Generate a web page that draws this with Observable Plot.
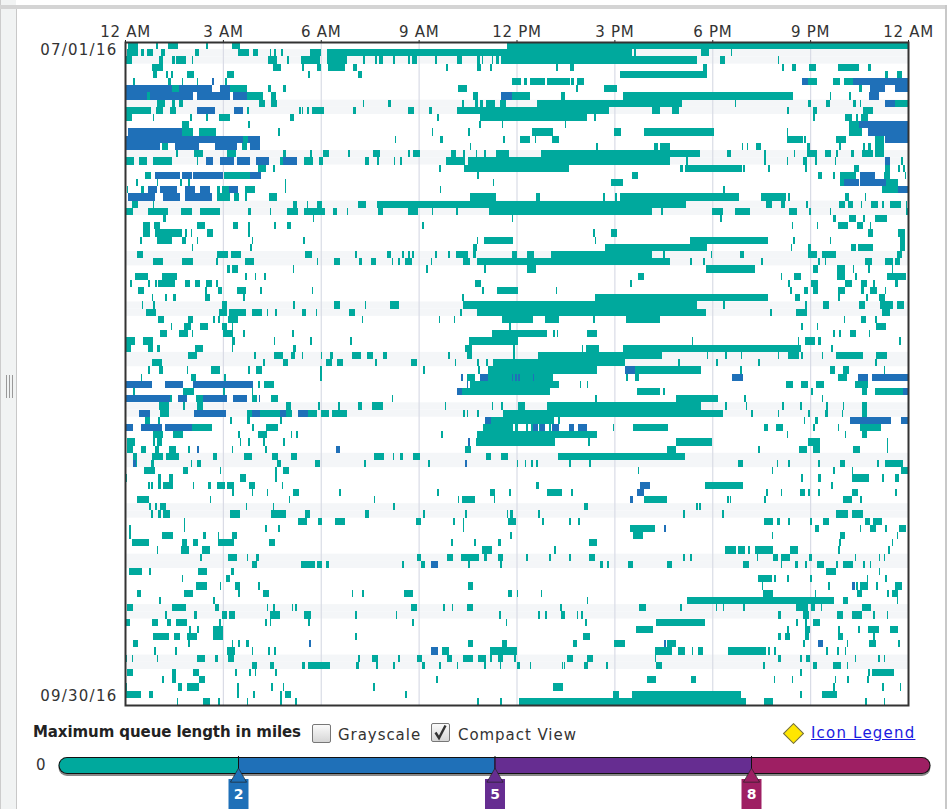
<!DOCTYPE html>
<html>
<head>
<meta charset="utf-8">
<script src="https://cdn.jsdelivr.net/npm/d3@7"></script>
<script src="https://cdn.jsdelivr.net/npm/@observablehq/plot@0.6"></script>
<style>
html,body{margin:0;padding:0;background:#fff;width:950px;height:809px;overflow:hidden;font-family:"DejaVu Sans",sans-serif;color:#333}
.abs{position:absolute}
svg{position:absolute;left:0;overflow:visible}
.t{position:absolute;font-size:15px;letter-spacing:.95px;white-space:nowrap;line-height:18px}
.cb{position:absolute;width:17px;height:17px;border:1px solid #777;border-radius:2px;background:linear-gradient(#fafafa,#d6d6d6)}
</style>
</head>
<body>
<div class="abs" style="left:0;top:0;width:1px;height:809px;background:#ccc"></div>
<div class="abs" style="left:1px;top:0;width:15px;height:809px;background:#f1f3f3"></div>
<div class="abs" style="left:16px;top:5px;width:1px;height:804px;background:#c8c8c8"></div>
<div class="abs" style="left:0;top:5px;width:946px;height:4px;background:#d4d4d4"></div>
<div class="abs" style="left:945px;top:5px;width:2px;height:804px;background:#c8c8c8"></div>
<div class="abs" style="left:6px;top:375px;width:1px;height:23px;background:#999;box-shadow:3px 0 0 #999,6px 0 0 #999"></div>
<div id="chart"></div>
<div class="t" style="left:33px;top:723px;font-weight:bold;font-size:15px;letter-spacing:-.09px;color:#222">Maximum queue length in miles</div>
<div class="cb" style="left:312px;top:724px"></div>
<div class="t" style="left:338px;top:726px">Grayscale</div>
<div class="cb" style="left:431px;top:723px"></div>
<svg style="top:723px;left:431px" width="19" height="19"><path d="M4.5 9.5 L8 15 L14.5 2.5" fill="none" stroke="#333" stroke-width="2.4"/></svg>
<div class="t" style="left:458px;top:726px">Compact View</div>
<div class="abs" style="left:786px;top:726px;width:13px;height:13px;background:#ffe600;border:1px solid #665;transform:rotate(45deg)"></div>
<div class="t" style="left:811px;top:724px;color:#1a1ae0;text-decoration:underline;letter-spacing:1.2px">Icon Legend</div>
<div class="t" style="left:36px;top:756px">0</div>
<div id="legend"></div>
<script>
const hourTicks = [0,3,6,9,12,15,18,21,24];
const hourLabels = ["12 AM","3 AM","6 AM","9 AM","12 PM","3 PM","6 PM","9 PM","12 AM"];
const dayCount = 92;
const weekendDays = [1,2,8,9,15,16,22,23,29,30,36,37,43,44,50,51,57,58,64,65,71,72,78,79,85,86];
const dateTicks = [1,90.75];
const dateLabels = ["07/01/16","09/30/16"];
const tealColor = "#00a99d", blueColor = "#1f70b8", purpleColor = "#662d91", magentaColor = "#9e1f63";

// Congested spans per day, in hours after midnight ("start-end", or a lone hour for a brief event).
const tealSpans = [
"0.1-0.4 0.95 1.33-1.63 2.48 3.27-3.52 11.72-24",
"0.05-0.4 0.48-0.58 0.66-0.87 1.09-1.23 2.15-2.28 3.47-3.81 3.93-4.09 4.44 4.57 4.77-4.85 5.67-6 6.2-15.53 15.6 17.67-17.9 18.56",
"0-0.2 1.05-1.17 1.43-1.53 1.56-1.87 2.04 4.39-4.65 4.97 5.39-5.98 6.2-6.79 7.28-7.37 7.66-7.73 7.79-7.9 8.2-8.28 8.68-8.75 8.81-8.94 9.5 10.18-10.32 10.78-10.88 10.93 11.24 11.37-11.47 11.54-17.52 18.23-18.39 20",
"0.82-1.15 4.55-4.77 5.41-5.49 5.87-6 6.23-6.74 7-7.1 9.84 10.78-10.9 11.19 13.2-13.27 13.64-13.76 17.72-17.85 20.15 20.43-20.56 20.97-21.18 21.84-22.5 22.78-22.86",
"0.85-0.97 1.26 1.4-1.46 1.89-2.11 3.14-3.34 5.62 7.15-7.25 15.17-17.85 23.29-23.39 23.67-23.83",
"0.26 1.33-1.4 1.74-1.79 2.2-2.25 3.06-3.12 11.85-12.13 12.24-12.33 12.41-12.87 12.95-13.63 13.68-13.76 13.86-14.08 20.94-21.2 21.69-21.93 22.03-22.32",
"1.43-1.66 3.22-3.75 4.37-4.49 4.85-4.92 10.21-10.49 13.82-13.9 14.68-15.09 22.5-22.6",
"0.66-0.76 3.75-4.22 4.49-4.62 10.68-10.83 11.85-12.41 13.35-13.5 15.25-20.48 21.6 22.2",
"0.97-1.23 1.43-1.53 1.65-1.79 4.12-4.29 4.46-4.65 7.28 8.07-8.14 10.32-10.39 10.73-10.83 10.88-10.98 11.08-11.34 11.5-11.68 12.64-17.08 18.69 20.94-21.04 21.5-21.6 22.32-22.42 22.52 23.6-24",
"0-0.79 0.95-1.17 1.38-1.56 3.73-3.8 5.33 5.41 5.58 5.72 5.77-6.1 6.98-7.08 8.68-8.87 9.33-9.41 10.18-14.83 16.14-16.4 16.78-16.98 20.3 21.09-21.21 22.63-22.93",
"0.02-0.2 0.85 2 2.47-2.55 2.88-3.22 5.06-5.18 9.55-9.63 10.88-14.17 14.37-14.43 21.1 22.06-22.27 22.42 22.57-22.77",
"1.74-1.97 3.78 10.86 11.55 13.48 22.2-22.5",
"1.74-2.09 2.27-2.78 4.7 9.4 10.52 12.49-13.13 14.99-15.2 15.91-18.05 20.28 22.2-22.6",
"3.63-3.78 8.27 9.65-9.75 11.6 12.1-12.4 12.56 13.1-13.31 20.3-20.77 20.82 21.78-22.11 22.98-23.25",
"1.12-1.33 3.58-3.75 10.57 14.45 16.2-16.33 16.4-16.7 18.9 19.05 19.34-19.48 20.9-21 21.9 22.63 22.78-22.88 23-23.25",
"1.56 2.11-2.38 3.14-3.4 4.85-4.95 5.67-5.74 6.08-6.25 6.84 7.59-7.81 8.68-8.75 8.83-9.04 10-10.16 10.37-10.42 10.75 11 11.37-11.78 12.74-17.62 18.44-18.59 19.59 20.5 20.9-21.2 21.45-21.65 21.8 22.24-22.34 22.6-22.93 23-23.25",
"0-0.28 0.44-0.66 0.87-1.43 2.2 4.75-4.85 5.49-5.77 5.96-6.06 7.35-7.49 7.71-7.78 8.24 8.43 9.84-10.42 10.52-16.72 17.21 19.6 20.28 20.79-20.89 21.15 21.75 23.8",
"4.09-4.31 4.55 9.63 10.39-13.6 17-17.1 17.18-18.9 18.95 19.71-19.76 20.84 22.34-22.5 23.3-23.45 23.7 23.85",
"0.61-0.79 3.03-3.83 10.8 15.55-15.73 21.25-21.35 21.7 21.91-22.42 23.25-23.45 23.9",
"0.34-0.41 0.97 1.69 1.94 4.9 11.27 14.91-15.25 21.91-22.03 23.33-23.69",
"0.05 0.5-0.58 2.81-2.91 2.98-3.18 3.68-3.98 4.9 9.65 18.34 23.19-23.69",
"2.81-3.22 3.35-3.5 3.68 4.42-4.65 10.57-11.37 12.59-12.72 14.66 15.02 15.17-18.82 19.5-20.26 20.32 22.06-22.2 22.67",
"0.2-0.4 0.85 5.16-5.26 5.57 5.87-6.03 7.15-7.4 7.71-17.21 19.64-19.82 20.12-20.22 20.87 21.9-22.06 22.16-22.3 22.55 22.88-23.09 23.2 23.44-23.8 23.93",
"0-0.23 0.72-1.33 1.72-2.04 2.3-2.91 3.78-3.85 4.44 4.97-5.31 5.49-6.13 6.38-6.49 6.79 7.76-7.92 8.68-8.99 9.4 10.16 11.16-16.14 16.44 18-18.34 18.69-19.17 20.36-20.6 20.97 21.6 23.95",
"1.17-1.25 5.75 11.86-11.9 18.25 21.7-21.8 22.2-22.4 22.63 22.98-23.37",
"0.56-0.77 0.89-1.07 2.2-2.45 3.3-3.47 3.78 4.57 4.97-5.08 9.09-9.16 20.43 21.2 21.86-22.17 22.45-22.63 22.83",
"0.56-0.77 0.92-1.74 1.85 2.01 2.5-2.69 3.78 14.36 14.91-15.07 22.78-22.93 23.7-23.9",
"0.46 0.97-1.43 1.74-1.86 2.2 3.88 5.46 10.78 11-11.9 14.4 17.31-19.71 20.48 21.6 23.75-23.9",
"2.04 3.83 10.67-10.8 14.71-17.83 20.4 20.94-21.04 22.24-22.42 22.47-22.93 23.75-23.9",
"0.38-0.56 2.83-3.17 3.24-3.57 5.52-5.74 7.05 8.04-8.14 8.48-8.55 8.68 8.8 9.5 9.9 10.14-10.52 10.67-10.77 11.85-12.02 12.33-12.53 13.07-16.14 16.5 17.95 18.85-18.98 20.92-21.2 21.35-21.79 23.65-23.83",
"0.87-1.17 1.76-2.07 2.8 3.68-3.96 5.87 6.4-6.59 7.18-7.25 7.53-7.69 8.17 8.38 8.58-8.8 9.37 10.37-10.57 10.78-16.7 17.32 17.72 19.5 21.25 21.45 22.67-22.91 23.29-23.54 23.6-23.75",
"3.12-3.22 3.29-3.47 5.14 9.24 11 12.31-12.61 17.82-19.3 21.09-21.24 21.81-22.07 22.3 22.78 23.5",
"0.3-0.72 1.12-1.58 3.68 3.98 4.26 15.73-15.92 20.1 20.5-20.73 21.81-22.07 22.38 23.36-23.95",
"0.15 0.72 0.92 1.02-1.53 1.84-1.99 2.14-2.3 2.48-2.66 2.8 10.72-10.9 15.47-15.55 20.33 21.04-21.24 22.06-22.27 22.57-22.75 22.93 23.6-23.7",
"0.41-0.59 2.45 2.86-2.96 3.44-3.7 4.14 5.72 10.95 11.41-12.05 13.2 20.38 20.8-20.94 21.09-21.24 21.86-22.06 22.57-22.64 22.85-23.05 23.28",
"0.82 1.23 1.48-1.55 2.45-2.6 3.63-3.69 10.32-10.39 14.4-19.71 20.53-20.7 21.86 22.72 23.12-23.3",
"0.51 0.87 2.96-3.12 5.16 6.4-6.59 7.35 8.12-8.41 10.35-17.52 18.34 20.84 21.4-21.58 22.5-22.67 23.15-23.55 23.67-23.87",
"0.63-0.94 2.89-3.14 3.2-3.71 3.88-4.19 4.34 4.6 5.41-5.55 5.84 6.87-7.06 10.27 10.78-17.8 19.77 20.58-20.89 23.2-23.45",
"1.02-1.2 1.94-2.09 2.7 2.86 3.17-3.47 7.25 9.62 10.08 11.57-12.51 12.87-13.31 14.35 15.37-16.4 22.03 22.57-22.7 23",
"1.4 1.81-2.01 2.3-2.55 2.96-3.12 3.27 11.78 20.73 21.2 23.01-23.32",
"1.07-1.28 1.66-1.93 2.04 2.99-3.32 3.63 5.12 11.24-12.94 13.12 13.23 14.17-14.47 21.7 21.9 22.22-22.42 22.8",
"0.03-0.31 0.56-0.87 3.27-3.37 4.56 5.67 6.9 10.55-12.05 17.37 20.62 20.84-21.14 21.25-21.32 23.73",
"0.03-0.17 0.72-0.87 0.97-1.07 2.14-2.4 3.27 5.14-5.24 10.42-10.65 11.9 14 14.13-14.54 15.27-20.73 21.65",
"1.94-2.22 3.95 4.56-4.85 5.1-5.2 5.41 6 6.28-6.38 6.95-7.22 7.43-7.59 7.92-8.02 9.9 10.47-10.65 11.9 12.67-16.45 17.83 18.4 18.87 20 20.33-20.66 20.73 21.35 21.79-22.62 23.03-23.36",
"0.82-1.12 4.24 4.85-5 6.16-6.33 6.51-6.67 7.66 8.78-8.96 10.11 10.8 11.08 11.29-15.32 16.95 18.13 19.41 23",
"0.72 1.05-1.17 1.89 2.65-2.91 3.78 4.03-4.19 5.98 9.14 10.83 11.13-14.47 15.37 15.46-17.65 18.85 21.6-21.76 22-22.2 23.25",
"0.48 2.01-2.17 3.04 5.98 10.47-10.73 11.13-12.2 12.2-13.12 15.37 15.63-15.76 21.86-22.12",
"4.07-4.15 4.26-4.57 10.57-13.31 13.94 14.15 20.25-20.48 20.73-20.94 21.17-21.42 22.37-22.78",
"0.26 1.79-2.11 3.01 3.88 10.34-13.02 15.68-16.39 16.5 21.04 22.6-22.75 23-23.85",
"1.38-1.45 2.18-2.38 3.88-4.06 4.47-4.7 8.17 14.42 16.88-18.18 18.97 21.35",
"1.05-1.36 1.79 2.2-2.4 4.95-5.1 5.92 6.54 7.15-7.27 7.56-7.92 9.8 11.24 11.54 12.05-12.26 12.92-17.67 18.39 19.03 20.15 20.69 21.5 22 22.6-22.75",
"1.07-1.36 3.75-3.88 4.14-4.75 4.92-5.13 5.6-5.89 6-6.26 6.33-6.79 10.37 10.47 10.8 11.59-18.34 19.2 20 20.94 21.45-21.55 21.97 22.6-22.75",
"0.61-0.77 1.02 3.22 3.75-3.83 4.75 11.23-13.15 13.28 20.8 21.14-21.24",
"2.04-2.66 3.88-3.96 4.32-4.68 10.98-11.9 11.95-12.05 12.3 12.45 12.7 13 14.95 15.58-16.63 19.58-19.71 19.95-20.17 21.09 21.85 22.52-23.18",
"0.87-1.15 1.48-1.79 3.47 4.08-4.34 5.08 5.24 9.7 10.78-14.47 20.28 22.06 22.6-22.75",
"0.05-0.31 0.87 0.97-1.12 3.52 3.78 4.24 4.85 10.76-13.18 14.2 16.88-18 20.94-21.3 23.35",
"0.05-0.26 0.48-0.64 0.92-1.05 1.36-1.56 1.94 3.27 4.29 10.42-10.62 16.6-16.88 19.4 20.66-20.89 21.1-21.3 22.3-22.52 23.35",
"0.23-0.36 0.82-1.17 1.26-1.66 2.71-2.81 3.64-3.88 4.52-4.7 5.09-5.26 7.63-7.95 8.2 8.43-8.53 8.82-9.04 11.06-11.23 11.54-11.75 13.26-17.16",
"0.23-0.36 0.8-0.88 2.01 2.22-2.32 4.65-4.77 5.82-5.99 7.33 9.3 12 12.25 12.45 12.6 13.62 14.23 18.8-18.93 19.97 20.33 21.25 21.91-22.06 23.05 23.29-23.85",
"0.58-0.92 1.77-1.93 2.9 4.6 4.85-5.03 15.71 19.82 21.7 22.27 23.8-24",
"0 1-1.09 1.36-1.46 3.52-3.71 4.6 20.73 21.25-21.32 22.27-22.8 23.2 23.6-23.73",
"0.72 0.8 1-1.09 1.15-1.48 2.07 2.55-2.65 2.81-3.06 3.12-3.34 3.81-3.98 4.8 12.61-12.7 17.77-18.95 21.65",
"3.27-3.34 3.88 4.34 5.16-5.33 6.57 9.57 11.19-11.34 11.78 12.94-13.38 13.68 19.65 20.1 20.69-20.84 20.94 21.25 22.27-22.47 23.6",
"0.38-0.75 2.6 5.02 7.62 10.2 10.32-10.73 11.3 15.52 15.92-16.62 18.46 18.54 19.6 22-22.27 22.53",
"0.75 0.92 1.07-1.25 3.7 4.53 8.22 14.06-14.18 17.5 17.6",
"0.8 1-1.09 1.17-1.38 3.22-3.54 4.49-4.95 5.52-5.67 7.35-7.49 9.14 10.42 11.7 11.83 11.8-11.88 12.67 17.1 18.3 21.8-22.16 22.27-22.62",
"1.8 5.31-5.59 5.92-6.05 6.44-6.74 8.92-9.07 10.06 10.35 11.75-11.98 12.79 13.62 13.9 19.58-19.85 19.97-20.07 20.33 21 21.4-21.59 22.67-22.82 22.93-23.2",
"0.13 1.8 4.29 4.7 10.35 15.49-16.24 21.14-21.27 22.52 22.83-23.01 23.3 23.73-23.93",
"0.13 1.12-1.48 2.4-2.48 2.84 3.27-3.42 11.8 15.57-15.88 19.82 21.91-22.06 23.65",
"0.2-0.75 1.74-1.89 2.09-2.25 2.84-3.34 4.41-4.61 10 10.7 11.44-11.51 14.23-14.48 21.9 23.5",
"0.97 1.72-1.97 2.35-2.6 10.93-11.24 13.15 18.38-18.72 18.8-19 19.1 19.3-19.86 20.38-20.63 21.86 23.4",
"2.3 3.17-3.42 3.73 4.03-4.12 8.94-9.08 9.88-10.04 10.29-10.86 11-11.1 11.44-11.6 12.29-12.36 13 13.62 14.23-14.4 17.11 17.32 19.36 19.87-20 20.12-20.38 20.97-21.07 22.37 23.1 23.25",
"3.88-4.06 5.39-5.82 5.89-6.05 6.16-6.26 8.5 9.07-9.19 10.52 11.5 14.56-14.66 14.78 15.42-15.57 16.6-16.77 18.93-19.13 20.1 20.53-20.63 20.84 21.21-21.43 21.8 22-22.32 22.63 22.83",
"0.13-0.51 0.75 2.25-2.52 3.25-3.33 21.5-21.79 23.1",
"1.74 3.09-3.22 19.41-19.82 19.9 20.3 21-21.07 22.73 23.3",
"2.18-2.52 2.9 3.37-3.52 4.08 10.52-10.67 19.52 21.55 22.42 22.52-22.78 23.03 23.6-23.83",
"0.36-0.48 1.81-2.07 3.47-3.54 4.22-4.41 6.95 7.27 8.56-8.84 11.75 12 11.8 12 12.74 19.56-19.85 21.14 22.45-22.58 23.36 23.5-23.7",
"1.05 2.71 14.15 17.24-21.73 22.01-22.16 23.65",
"0.07-0.23 1.43-1.87 2.76-2.89 4.34 4.55 5.11 5.21 8.78-8.96 9.75-9.82 10.01 10.49-10.67 13.33 15.76-15.98 17-17.08 18.1 18.32 18.95 20.58-20.94 21.04-21.14 21.32 22.6-22.88",
"1.23 2.11-2.22 2.96-3.14 3.2-3.37 4.45-4.75 5.5-5.69 7.05 8.3 11.47 12.67 12.87 13.35-13.48 13.84 13.99 20-20.1 20.78-20.98 21.83-22 22.27-22.6 22.93 23.35",
"0-0.15 0.82-1 1.28-1.4 1.56-1.89 2.89 4.29 4.44 5.62 8.81 11.67 14.1 16.27-17.77 20.58 20.84 21.09-21.3",
"1.97 2.22 2.71-3.01 15.66-16.17 20.3 20.84-21 21.86-21.92 22.47 22.77-23.12 23.46-23.7",
"0.87-1.35 1.51-1.69 1.89-2.2 2.71-3.01 7.05 14.04-14.25 20-20.12 20.22-20.38 20.84-20.96 21.86-22.01 22.93",
"0.26-0.41 1.94 3.27 3.47 3.71-3.81 10.52-10.67 11.57-11.72 13.74-13.84 14.98-15.32 16.6-16.89 20.78 22.12 22.81-23.03 23.7",
"0.9 1.53 3.12-3.37 3.88 4.39 4.57 9.73-9.94 11.19-12.02 16.25-16.78 16.94-17.16 17.37 17.57-17.72 18.49-19.66 19.7-19.78 19.9 21.5 21.83 22.06",
"0 0.2 0.97 2.2-2.45 2.76-2.86 3.17-3.34 7.15 7.56-7.76 8.38 8.94-9.09 9.86-10.03 10.37-10.67 10.83-11.08 11.19 11.44-11.6 11.92 13.55-13.72 14.17-14.33 16.24 20-20.1 20.69 20.86-21 22.37 23.08 23.25",
"3.88-4.04 4.44-4.56 5.44-5.53 5.6-6.28 7.08-7.18 7.7 8.22 9.09-9.19 9.63 10.17 11 11.49 12-12.12 12.4 13.38 13.45 14.06-14.18 14.75 16.29-16.47 19.56 21.09-21.22 21.7-21.96 22.12",
"0.07-0.23 1.43-1.56 2.09-2.28 3.38 3.81 3.98 4.6 20.7 22.91-23.56 22.78",
"1.12-1.2 1.43-1.56 2.28-2.45 9.53 16-16.29 17.34-17.51 19.88 20.43 21.75 22.14 22.75",
"0 1.63-1.74 1.91-2.28 3.42-3.5 4.49 4.83 7.6 13.12-13.43 21.7 23.2 23.75",
"0-0.48 0.74-0.87 3.42-3.5 3.93 4.75 4.9-5.08 8.58 14.95-15.15 15.55-18.88 20.7 21.35-21.81",
"1.58 2.4-2.6 2.86 3.73 4.75 5.21 10.8 11.5 12.08-19.03 19.58-19.85 22.68 23.26"
];

const blueDays = [5,6,7,8,9,11,12,13,14,16,18,19,20,21,45,46,47,48,49,51,52,53,55,56,58,61,62,63,67,72,75,83,84];
const blueSpans = [
"2.66-2.73 20.76-20.94 22.32-24",
"0-1.43 1.66-2.66 2.91-3.22 22.83-23.29 23.6-24",
"0-0.66 0.76-2.07 2.2-3.22 3.32-3.75 11.54-11.85 22.8-23.1",
"23.3-23.6",
"2.2-2.76 3.34-3.61",
"22.5-24",
"0.1-1.74 22.78-24",
"0-3.63 3.78-4.14 23.3-24",
"0-1.07 1.53-2.27 2.76-3.44 3.83-4.14",
"2.47-2.71 2.91-3.34 3.44-3.83 4.01-4.42 4.85-5.28 23.29-23.46",
"0.92-1.69 1.74-2.04 2.09-3.01 3.83-4.17 22.52-22.98",
"22.03-22.5 22.52-23.33",
"0.72-0.97 1.07-1.58 1.84-2.14 2.3-2.6 3.2-3.47 23.69-24",
"0.1-0.92 1.18-1.69 1.84-2.66",
"15.32-15.63",
"10.3 10.88-11.13 11.85 11.95 12.05 12.5 18.62-18.95 22.47-22.78 22.91-24",
"0-0.82 1.23-1.77 2.07-3.93 10.47",
"10.18-10.34 23.85-24",
"0-1.38 1.61-1.91 2.38-3.14 3.3-3.75 4.1",
"0.44-0.77 2.11-3.11 3.88-4.14 4.75-4.92 5.29-5.6",
"11.03-11.23 22.21-23.49 23.8-24",
"0-0.23 0.48-1.12 1.23-2.04 12.5-12.65 12.72-12.87 13.1-13.3 13.6-13.75 13.9-14.15",
"10.52",
"2.22 6.47-6.59",
"0.26-0.34 10.42",
"15.8-16.09",
"15.68-15.92",
"15.49-15.57",
"16.52",
"9.37-9.6",
"22.27-22.37",
"5.65 16.52 21.25-21.38",
"9.37-9.6"
];

const parseSpans = (text, day, level) => text.split(" ").filter(Boolean).map(part => {
  const [a, b] = part.split("-").map(Number);
  return {day, start: a, end: b === undefined ? a + 0.05 : b, level};
});
const spans = [
  ...tealSpans.flatMap((t, i) => parseSpans(t, i, "under 2 miles")),
  ...blueSpans.flatMap((t, i) => parseSpans(t, blueDays[i], "2 to 5 miles"))
];

const chart = Plot.plot({
  width: 950, height: 708,
  marginLeft: 125, marginRight: 42, marginTop: 42, marginBottom: 3,
  style: {fontFamily: '"DejaVu Sans",sans-serif', fontSize: "15px", letterSpacing: ".7px", color: "#333", background: "transparent"},
  x: {domain: [0, 24], axis: null},
  y: {domain: [0, dayCount], reverse: true, axis: null},
  color: {type: "ordinal", domain: ["under 2 miles", "2 to 5 miles"], range: [tealColor, blueColor]},
  marks: [
    Plot.rect(weekendDays, {x1: 0, x2: 24, y1: d => d, y2: d => d + 1, fill: "#f4f6f8"}),
    Plot.ruleX(hourTicks.slice(1, -1), {stroke: "#d9dce6", strokeWidth: 1.2}),
    Plot.rect(spans, {x1: "start", x2: "end", y1: "day", y2: d => d.day + 1, fill: d => d.level, shapeRendering: "crispEdges", className: "spans"}),
    Plot.axisX({anchor: "top", ticks: hourTicks, tickSize: 3, tickPadding: 3,
      tickFormat: d => hourLabels[hourTicks.indexOf(d)], stroke: "#222", label: null}),
    Plot.axisY({anchor: "left", ticks: dateTicks, tickSize: 0, tickPadding: 8,
      tickFormat: d => dateLabels[dateTicks.indexOf(d)], label: null}),
    Plot.frame({stroke: "#333", strokeWidth: 2})
  ]
});
document.getElementById("chart").append(chart);
chart.style.top = "0px";
chart.querySelectorAll(".spans").forEach(g => g.style.filter = "blur(.4px)");
chart.querySelectorAll("text").forEach(t => {
  if (t.textContent.includes("/")) t.style.letterSpacing = "1.25px";
});

// Queue-length legend
const stops = [0, 2, 5, 8, 10];
const stopColors = [tealColor, blueColor, purpleColor, magentaColor];
const stopSegs = stopColors.map((c, i) => ({a: stops[i], b: stops[i + 1], c, round: i === 0 || i === 3}));
const stopMarks = [
  {v: 2, c: blueColor}, {v: 5, c: purpleColor}, {v: 8, c: magentaColor}
];
const legendPlot = Plot.plot({
  width: 950, height: 59, margin: 0,
  style: {fontFamily: '"DejaVu Sans",sans-serif', background: "transparent", overflow: "visible"},
  x: {domain: [0, 10], range: [67, 922], axis: null},
  y: {domain: [0, 59], range: [0, 59], axis: null},
  marks: [
    Plot.ruleY([0], {x1: 0, x2: 10, y: 17, stroke: "#888", strokeWidth: 17, strokeLinecap: "round"}),
    Plot.ruleY([0], {x1: 0, x2: 10, y: 15, stroke: "#111", strokeWidth: 17, strokeLinecap: "round"}),
    Plot.ruleY(stopSegs.filter(d => d.round), {x1: "a", x2: "b", y: 15, stroke: "c", strokeWidth: 15, strokeLinecap: "round"}),
    Plot.ruleY(stopSegs.filter(d => !d.round), {x1: "a", x2: "b", y: 15, stroke: "c", strokeWidth: 15}),
    Plot.ruleX(stopMarks, {x: "v", y1: 6, y2: 24, stroke: "#111", strokeWidth: 1}),
    Plot.ruleX(stopMarks, {x: "v", y1: 29, y2: 59, stroke: "c", strokeWidth: 20}),
    Plot.dot(stopMarks, {x: "v", y: 27, symbol: "triangle", r: 6, fill: "c", stroke: "#222", strokeWidth: .7}),
    Plot.text(stopMarks, {x: "v", y: 44, text: "v", fill: "white", fontSize: 14, fontWeight: "bold"})
  ]
});
document.getElementById("legend").append(legendPlot);
legendPlot.style.top = "750px";
</script>
</body>
</html>
